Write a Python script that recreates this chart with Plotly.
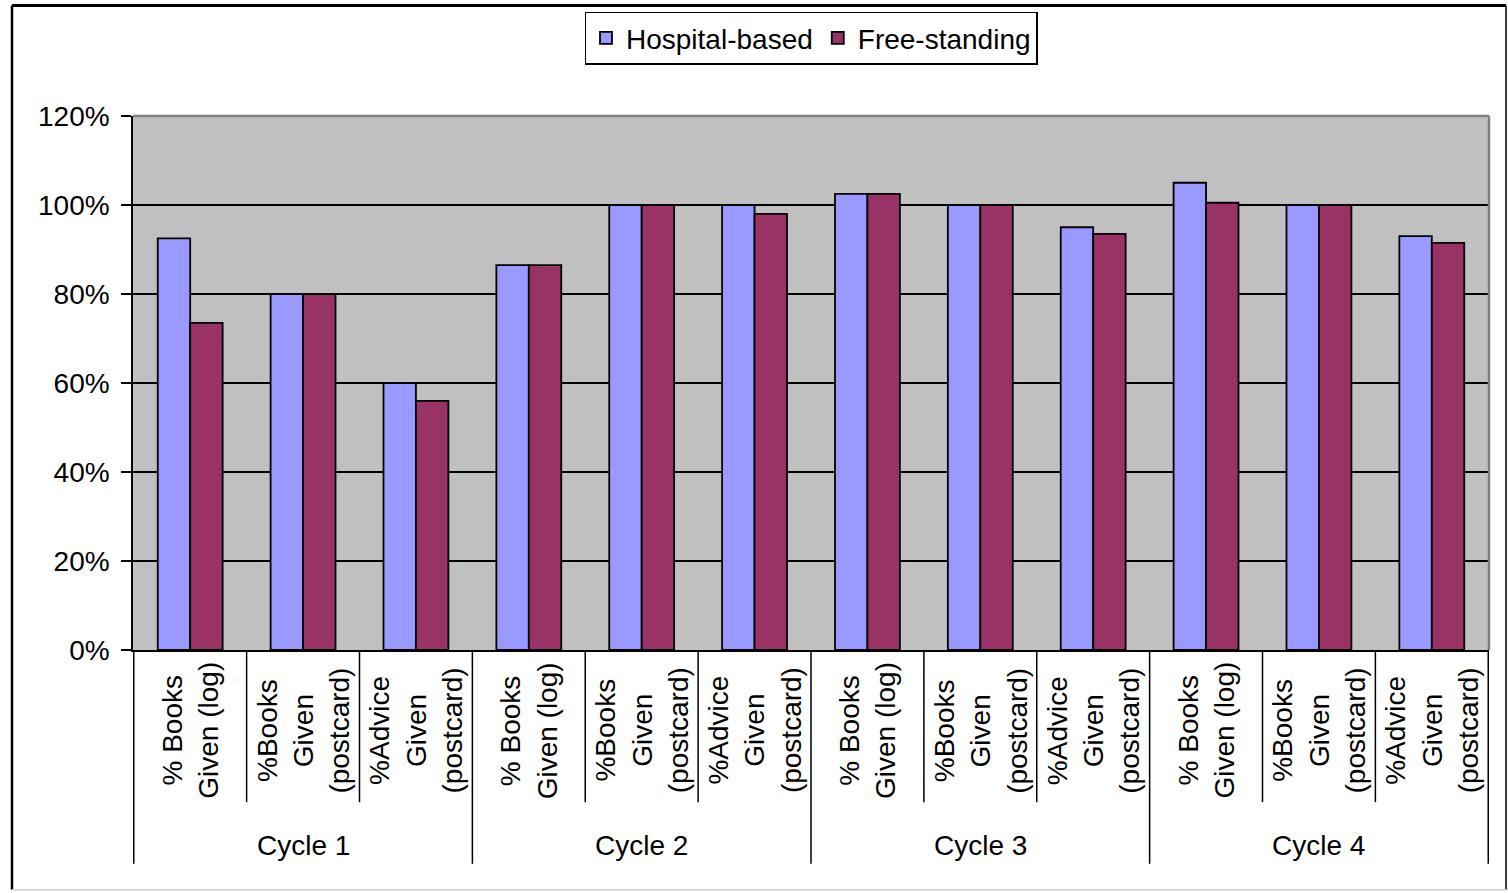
import plotly.graph_objects as go

cycles = ["Cycle 1", "Cycle 2", "Cycle 3", "Cycle 4"]
measures = ["% Books<br>Given (log)", "%Books<br>Given<br>(postcard)", "%Advice<br>Given<br>(postcard)"]
hospital = [92.5, 80, 60, 86.5, 100, 100, 102.5, 100, 95, 105, 100, 93]
free_standing = [73.5, 80, 56, 86.5, 100, 98, 102.5, 100, 93.5, 100.5, 100, 91.5]
y_ticks = [0, 20, 40, 60, 80, 100, 120]
y_tick_text = [f"{v}%" for v in y_ticks]

cats = [f"{c}|{m}" for c in cycles for m in measures]

FONT = "Liberation Sans, Arial, sans-serif"
FS = 28
fig = go.Figure()
fig.add_trace(go.Bar(x=cats, y=hospital, name="Hospital-based",
                     marker=dict(color="#9999FF", line=dict(color="black", width=1.8))))
fig.add_trace(go.Bar(x=cats, y=free_standing, name="Free-standing",
                     marker=dict(color="#993366", line=dict(color="black", width=1.8))))

W, H = 1508, 893
L, R, T, B = 133, 1489, 113, 650
pw, ph = R - L, B - T

def px_y(y):
    return (B - y) / ph

def px_x(x):
    return (x - L) / pw

shapes = []
n = len(cats)
for k in range(n + 1):
    xpos = k - 0.5
    if k % len(measures) == 0:
        y1 = px_y(865)
    else:
        y1 = px_y(803)
    shapes.append(dict(type="line", xref="x", yref="paper", x0=xpos, x1=xpos, y0=0, y1=y1,
                       line=dict(color="black", width=1.5)))
shapes.append(dict(type="line", xref="paper", yref="paper", x0=0, x1=1, y0=1, y1=1,
                   line=dict(color="#808080", width=2.5), layer="above"))
shapes.append(dict(type="line", xref="paper", yref="paper", x0=1, x1=1, y0=0, y1=1,
                   line=dict(color="#808080", width=2.5), layer="above"))
ox0, ox1, oy0, oy1 = px_x(12), px_x(1506), px_y(891), px_y(2)
shapes.append(dict(type="line", xref="paper", yref="paper", x0=ox0, x1=ox0, y0=oy0, y1=oy1,
                   line=dict(color="black", width=2.5)))
shapes.append(dict(type="line", xref="paper", yref="paper", x0=ox0, x1=ox1, y0=oy1, y1=oy1,
                   line=dict(color="black", width=3)))
shapes.append(dict(type="line", xref="paper", yref="paper", x0=ox1, x1=ox1, y0=oy0, y1=oy1,
                   line=dict(color="black", width=1.5)))
shapes.append(dict(type="line", xref="paper", yref="paper", x0=ox0, x1=ox1, y0=oy0, y1=oy0,
                   line=dict(color="#D0D0D0", width=1.5)))

annotations = []
for c in cats:
    annotations.append(dict(x=c, xref="x", y=px_y(731), yref="paper", text=c.split("|")[1],
                            textangle=-90, showarrow=False, align="center",
                            xanchor="center", yanchor="middle",
                            font=dict(family=FONT, size=FS, color="black")))
for i, cy in enumerate(cycles):
    mid = cats[i * len(measures) + 1]
    annotations.append(dict(x=mid, xref="x", y=px_y(847), yref="paper", text=cy,
                            showarrow=False, xanchor="center", yanchor="middle",
                            font=dict(family=FONT, size=FS, color="black")))

fig.update_layout(
    width=W, height=H, autosize=False,
    margin=dict(l=L, r=W - R, t=T, b=H - B, pad=0),
    paper_bgcolor="white", plot_bgcolor="#C0C0C0",
    barmode="group", bargap=0.425, bargroupgap=0,
    font=dict(family=FONT, size=FS, color="black"),
    showlegend=True,
    legend=dict(orientation="h", x=0.5, xanchor="center", y=px_y(8), yanchor="top",
                bgcolor="white", bordercolor="black", borderwidth=1.5,
                font=dict(family=FONT, size=FS, color="black"),
                traceorder="normal", itemwidth=30),
    xaxis=dict(type="category", showticklabels=False, showgrid=False, zeroline=False,
               showline=True, linecolor="black", linewidth=1.5, ticks=""),
    yaxis=dict(range=[0, 120], tickmode="array", tickvals=y_ticks, ticktext=y_tick_text,
               showgrid=True, gridcolor="black", gridwidth=1.5, zeroline=False,
               showline=True, linecolor="black", linewidth=1.5,
               ticks="outside", ticklen=10, tickcolor="black", tickwidth=1.5,
               ticklabelstandoff=6,
               tickfont=dict(family=FONT, size=FS, color="black")),
    shapes=shapes, annotations=annotations,
)

fig.write_html("out.html", config={"displayModeBar": False},
               post_script="document.body.style.margin='0';document.body.style.overflow='hidden';")
